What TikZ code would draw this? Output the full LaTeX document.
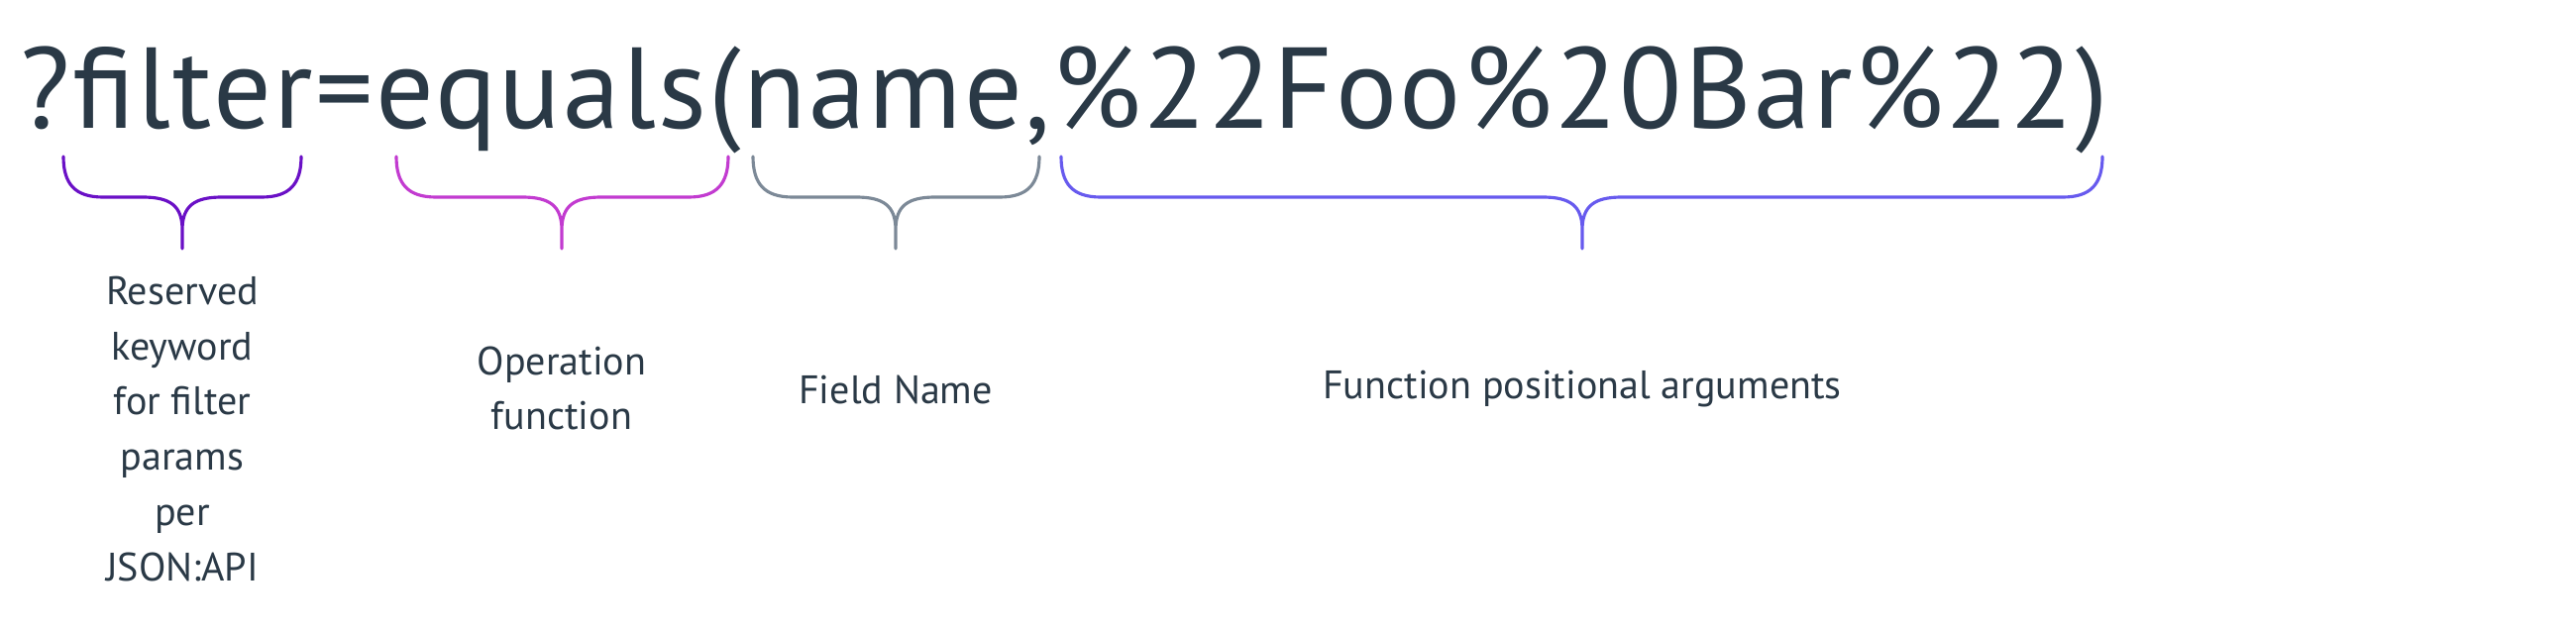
\documentclass[tikz,border=0pt]{standalone}
\usepackage{fontspec}
\setmainfont{PT Sans}
\newfontfamily\queryfont[LetterSpace=2.0]{PT Sans}
\usepackage{tikz}

\definecolor{ink}{HTML}{2A3946}
\definecolor{keywordc}{HTML}{6A10C6}
\definecolor{opc}{HTML}{C23BD0}
\definecolor{fieldc}{HTML}{7C8997}
\definecolor{argc}{HTML}{675AEE}

\begin{document}
\begin{tikzpicture}[x=0.01cm, y=-0.01cm,
    brace/.style={line width=0.9pt, line cap=round},
    note/.style={text=ink, align=center, inner sep=0pt, font=\fontsize{11.4}{15.9}\selectfont}]
        \useasboundingbox (0,0) rectangle (2600,640);
        \node [anchor=base west, inner sep=0pt, text=ink, font=\queryfont\fontsize{33}{40}\selectfont] (query) at (20,130)
          {?filter=equals(name,\%22Foo\%20Bar\%22)};
        \draw [brace, keywordc]
          (64,158) .. controls (64,186) and (76,199) .. (104,199) -- (144,199)
          .. controls (172,199) and (184,208) .. (184,232) -- (184,251)
          (184,232) .. controls (184,208) and (196,199) .. (224,199) -- (264,199)
          .. controls (292,199) and (304,186) .. (304,158);
        \draw [brace, opc]
          (400,158) .. controls (400,186) and (412,199) .. (440,199) -- (527,199)
          .. controls (555,199) and (567,208) .. (567,232) -- (567,251)
          (567,232) .. controls (567,208) and (579,199) .. (607,199) -- (695,199)
          .. controls (723,199) and (735,186) .. (735,158);
        \draw [brace, fieldc]
          (760,158) .. controls (760,186) and (772,199) .. (800,199) -- (864,199)
          .. controls (892,199) and (904,208) .. (904,232) -- (904,251)
          (904,232) .. controls (904,208) and (916,199) .. (944,199) -- (1009,199)
          .. controls (1037,199) and (1049,186) .. (1049,158);
        \draw [brace, argc]
          (1071,158) .. controls (1071,186) and (1083,199) .. (1111,199) -- (1557,199)
          .. controls (1585,199) and (1597,208) .. (1597,232) -- (1597,251)
          (1597,232) .. controls (1597,208) and (1609,199) .. (1637,199) -- (2082,199)
          .. controls (2110,199) and (2122,186) .. (2122,158);
        \node [note] (keyword) at (184,433) {Reserved\\keyword\\for filter\\params\\per\\JSON:API};
        \node [note] (operation) at (567,392) {Operation\\function};
        \node [note] (field) at (904,393) {Field Name};
        \node [note] (arguments) at (1597,393) {Function positional arguments};
      \end{tikzpicture}
\end{document}
